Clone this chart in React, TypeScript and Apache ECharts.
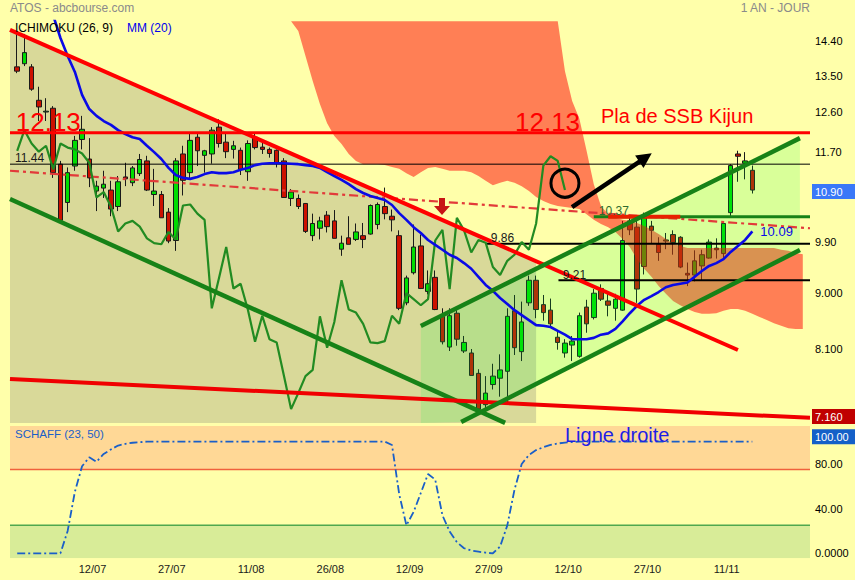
import React, { useEffect, useRef } from "react";
import * as echarts from "echarts";

// ATOS daily sessions from 27/06 to 16/11: [open, close, low, high]
const candles: number[][] = [
  [13.72, 13.61, 13.56, 14.62], [13.8, 14.09, 13.74, 14.59], [13.72, 13.16, 13.12, 13.79], [12.89, 12.73, 12.4, 13.22],
  [12.61, 12.63, 12.4, 12.94], [12.7, 11.26, 11.15, 12.75], [11.44, 10.3, 10.29, 11.51], [10.65, 11.26, 10.46, 11.37],
  [11.4, 11.96, 11.3, 12.06], [11.98, 12.21, 11.76, 12.52], [11.55, 11.15, 10.96, 12.01], [10.88, 10.98, 10.48, 11.09],
  [10.94, 11.02, 10.74, 11.3], [10.9, 10.52, 10.38, 11.09], [10.57, 11.07, 10.48, 11.19], [11.17, 11.13, 10.98, 11.47],
  [11.05, 11.36, 10.98, 11.4], [11.24, 11.54, 11.19, 11.66], [11.51, 10.9, 10.88, 11.62], [10.81, 10.88, 10.58, 11.34],
  [10.81, 10.35, 10.35, 10.88], [10.46, 9.91, 9.87, 10.54], [9.92, 11.51, 9.73, 11.57], [11.66, 11.1, 10.79, 11.84],
  [11.26, 11.96, 11.13, 12.11], [12.03, 11.73, 11.4, 12.13], [11.63, 11.73, 11.26, 11.75], [11.66, 12.19, 11.45, 12.26],
  [12.26, 11.89, 11.8, 12.44], [11.92, 11.71, 11.57, 12.11], [11.76, 11.84, 11.56, 11.95], [11.74, 11.33, 11.21, 11.8],
  [11.28, 11.89, 11.09, 11.96], [12.03, 11.8, 11.76, 12.13], [11.81, 11.76, 11.66, 11.96], [11.76, 11.67, 11.58, 11.8],
  [11.74, 11.47, 11.37, 11.76], [11.51, 10.75, 10.75, 11.57], [10.73, 10.86, 10.58, 10.92], [10.73, 10.57, 10.52, 10.81],
  [10.63, 10.09, 10.06, 10.64], [10.01, 10.24, 9.91, 10.43], [10.15, 10.29, 9.94, 10.37], [10.4, 10.18, 10.07, 10.48],
  [10.29, 9.96, 9.96, 10.5], [9.76, 9.87, 9.64, 10.01], [9.97, 9.85, 9.85, 10.38], [9.94, 10.08, 9.91, 10.24],
  [10.01, 9.94, 9.78, 10.25], [10.04, 10.59, 10.03, 10.61], [10.22, 10.61, 10.13, 10.65], [10.57, 10.43, 10.32, 10.95],
  [10.38, 10.31, 10.09, 10.51], [10.01, 8.74, 8.71, 10.11], [8.83, 9.25, 8.79, 9.29], [9.34, 9.8, 9.31, 10.22],
  [9.82, 9.07, 9.06, 10.03], [9.02, 9.15, 8.97, 9.38], [9.26, 8.72, 8.71, 9.38], [8.61, 8.21, 8.17, 8.74],
  [8.13, 8.62, 8.07, 8.74], [8.66, 8.25, 8.15, 8.71], [8.07, 8.2, 8.04, 8.3], [8.04, 7.71, 7.71, 8.1],
  [7.74, 7.24, 7.21, 7.8], [7.3, 7.46, 7.21, 7.7], [7.58, 7.7, 7.51, 7.88], [7.67, 7.79, 7.41, 8.02],
  [7.77, 8.61, 7.3, 8.74], [8.7, 8.12, 8.01, 8.96], [8.06, 8.52, 7.92, 8.85], [8.83, 9.21, 8.78, 9.29],
  [9.21, 8.72, 8.58, 9.29], [8.8, 8.67, 8.54, 8.96], [8.71, 8.49, 8.43, 8.9], [8.28, 8.2, 8.09, 8.39],
  [8.04, 8.19, 7.97, 8.25], [8.16, 8.22, 7.92, 8.3], [7.99, 8.62, 7.97, 8.67], [8.76, 8.49, 8.35, 8.88],
  [8.59, 8.99, 8.56, 9.06], [9.07, 8.89, 8.86, 9.14], [8.86, 8.79, 8.61, 8.98], [8.74, 8.89, 8.54, 8.98],
  [8.71, 9.92, 8.7, 10.29], [10.29, 10.12, 10.02, 10.4], [10.17, 9.06, 8.83, 10.29], [9.45, 10.35, 9.31, 10.45],
  [10.19, 10.11, 9.87, 10.29], [9.85, 9.7, 9.55, 9.98], [9.91, 9.93, 9.76, 10.06], [10.03, 9.88, 9.66, 10.11],
  [9.98, 9.44, 9.42, 10.0], [9.33, 9.3, 9.11, 9.52], [9.3, 9.55, 9.19, 9.74], [9.46, 9.66, 9.2, 9.75],
  [9.6, 9.89, 9.59, 9.94], [9.78, 9.75, 9.59, 9.96], [9.68, 10.24, 9.59, 10.25], [10.45, 11.41, 10.37, 11.44],
  [11.66, 11.61, 11.07, 11.73], [11.46, 11.51, 11.12, 11.7], [11.31, 10.9, 10.83, 11.41],
];

// MM(20), first value at session index 5
const mm20Start = 5;
const mm20: number[] = [
  15.1, 14.48, 14.0, 13.59, 13.02, 12.68, 12.52, 12.4, 12.31, 12.19,
  12.1, 12.03, 11.99, 11.84, 11.7, 11.55, 11.36, 11.21, 11.15, 11.13,
  11.17, 11.23, 11.27, 11.25, 11.25, 11.27, 11.32, 11.36, 11.42, 11.45,
  11.46, 11.46, 11.46, 11.45, 11.44, 11.42, 11.4, 11.36, 11.27, 11.19,
  11.11, 11.02, 10.92, 10.84, 10.78, 10.74, 10.7, 10.6, 10.44, 10.31,
  10.17, 10.06, 9.93, 9.84, 9.75, 9.66, 9.6, 9.51, 9.41, 9.27,
  9.13, 9.03, 8.91, 8.81, 8.71, 8.63, 8.55, 8.47, 8.46, 8.44,
  8.38, 8.32, 8.25, 8.25, 8.25, 8.27, 8.32, 8.34, 8.41, 8.53,
  8.66, 8.78, 8.88, 8.94, 9.01, 9.09, 9.13, 9.15, 9.17, 9.27,
  9.37, 9.46, 9.51, 9.58, 9.71, 9.82, 9.93, 10.09,
];

// Ichimoku kumo (projected spans), first value at index 37
const kumoStart = 37;
const senkouA: number[] = [
  14.94, 14.94, 14.67, 14.0, 13.36, 12.8, 12.35, 12.06, 11.88, 11.66,
  11.51, 11.44, 11.44, 11.44, 11.42, 11.38, 11.34, 11.25, 11.17, 11.27,
  11.36, 11.38, 11.34, 11.3, 11.3, 11.3, 11.27, 11.19, 11.09, 11.0,
  11.05, 11.09, 11.05, 10.98, 10.88, 10.76, 10.68, 10.62, 10.58, 10.56,
  10.54, 10.52, 10.42, 10.31, 10.23, 10.17, 10.08, 9.95, 9.8, 9.58,
  9.41, 9.27, 9.11, 8.98, 8.86, 8.79, 8.73, 8.68, 8.65, 8.65,
  8.66, 8.7, 8.73, 8.73, 8.7, 8.65, 8.6, 8.55, 8.5, 8.46,
  8.42, 8.41, 8.41,
];
const senkouB: number[] = [
  14.94, 14.94, 14.94, 14.94, 14.94, 14.94, 14.94, 14.94, 14.94, 14.94,
  14.94, 14.94, 14.94, 14.94, 14.94, 14.94, 14.94, 14.94, 14.94, 14.94,
  14.94, 14.94, 14.94, 14.94, 14.94, 14.94, 14.94, 14.94, 14.94, 14.94,
  14.94, 14.94, 14.94, 14.94, 14.94, 14.94, 14.94, 14.94, 14.94, 13.61,
  12.87, 12.45, 11.73, 11.02, 10.58, 10.42, 10.35, 10.31, 10.29, 10.25,
  10.19, 10.12, 10.04, 9.95, 9.86, 9.82, 9.78, 9.78, 9.78, 9.78,
  9.78, 9.78, 9.78, 9.78, 9.78, 9.78, 9.78, 9.78, 9.78, 9.75,
  9.73, 9.69, 9.67,
];
// Chikou span: closes drawn 26 sessions back
const chikouShift = 26;

// Schaff trend cycle (23, 50), one value per session
const schaff: number[] = [
  0, 0, 0, 0, 0, 0, 0, 20, 55, 78,
  86, 82, 89, 93, 96.5, 98, 99, 99.5, 100, 100,
  100, 100, 100, 100, 100, 100, 100, 100, 100, 100,
  100, 100, 100, 100, 100, 100, 100, 100, 100, 100,
  100, 100, 100, 100, 100, 100, 100, 100, 100, 100,
  100, 100, 97, 53, 25, 37, 54, 71, 66, 34,
  19.5, 10, 4.5, 2.5, 1.5, 0.5, 0, 6, 25, 57,
  80, 88, 92.4, 95, 97, 98.3, 99.2, 99.6, 100, 100,
  100, 100, 100, 100, 100, 100, 100, 100, 100, 100,
  100, 100, 100, 100, 100, 100, 100, 100, 100, 100,
  100, 100, 100,
];
const schaffHigh = 75;
const schaffLow = 25;

const dateLabels = ["12/07", "27/07", "11/08", "26/08", "12/09", "27/09", "12/10", "27/10", "11/11"];
const dateIndex = [11, 22, 33, 44, 55, 66, 77, 88, 99];

// price scale labels (10.80 and 7.200 sit under the value boxes)
const priceTicks = [14.4, 13.5, 12.6, 11.7, 9.9, 9.0, 8.1];
const priceTickLabels = ["14.40", "13.50", "12.60", "11.70", "9.90", "9.000", "8.100"];
const schaffTicks = [80, 40, 0];
const schaffTickLabels = ["80.00", "40.00", "0.0000"];

// Drawn levels and trend lines, as [session index, price]
const kijunLevel = 12.13;
const resistance = 11.44;
const level986 = 9.86;
const level921 = 9.21;
const level1037 = 10.37;
const fallingTop = [[-1, 14.7], [100, 8.085]];
const fallingBottom = [[-1, 10.72], [67.7, 7.056]];
const longSupport = [[-1, 7.66], [102, 7.16]];
const risingTop = [[56, 8.456], [108.6, 12.01]];
const risingBottom = [[61.6, 7.067], [108.6, 9.745]];
const dashTrend = [[-1, 11.3], [110, 10.15]];
const khakiEnd = 72;
const circleAt = [76.0, 11.04];
const arrowFrom = [76.98, 10.56];
const arrowTo = [87.18, 11.583];
const dropAt = [58.94, 10.57];

const FONT = '"Liberation Sans", Arial, Helvetica, sans-serif';

export default function App() {
  const ref = useRef<HTMLDivElement>(null);

  useEffect(() => {
    if (!ref.current) return;
    const chart = echarts.init(ref.current, null, { renderer: "svg" });

    const X_MIN = -1;
    const X_MAX = 110;
    const P_MIN = 7.0546;
    const P_MAX = 14.947;
    const S_MIN = -4.5;
    const S_MAX = 114;

    // price along a trend line, straight on the log scale
    const logAt = (line: number[][], x: number) => {
      const [[x0, p0], [x1, p1]] = line;
      const t = (x - x0) / (x1 - x0);
      return Math.exp(Math.log(p0) + t * (Math.log(p1) - Math.log(p0)));
    };

    const candleData = candles.map((c, i) => [i, c[0], c[1], c[2], c[3]]);
    const chikouData = candles.slice(chikouShift).map((c, i) => [i, c[1]]);
    const mmData = mm20.map((v, i) => [i + mm20Start, v]);
    const schaffData = schaff.map((v, i) => [i, v]);
    const kumo = [
      ...senkouA.map((v, i) => [i + kumoStart, v]),
      ...senkouB.map((v, i) => [i + kumoStart, v]).reverse(),
    ];
    const khaki = [
      [X_MIN, logAt(fallingTop, X_MIN)],
      [khakiEnd, logAt(fallingTop, khakiEnd)],
      [khakiEnd, P_MIN],
      [X_MIN, P_MIN],
    ];
    const channel = [
      risingTop[0],
      risingTop[1],
      risingBottom[1],
      risingBottom[0],
      [risingTop[0][0], P_MIN],
    ];

    const poly = (pts: number[][], fill: string, z: number, axis = 0) => ({
      type: "custom",
      z,
      silent: true,
      clip: true,
      xAxisIndex: axis,
      yAxisIndex: axis,
      data: [pts[0]],
      renderItem: (_p: any, api: any) => ({
        type: "polygon",
        shape: { points: pts.map((p) => api.coord(p)) },
        style: { fill },
      }),
    });

    const seg = (data: number[][], color: string, width: number, z: number, type: any = "solid", axis = 0) => ({
      type: "line",
      z,
      silent: true,
      symbol: "none",
      showSymbol: false,
      xAxisIndex: axis,
      yAxisIndex: axis,
      data,
      lineStyle: { color, width, type, cap: "butt" },
    });

    const hLine = (x0: number, v: number) => [[x0, v], [X_MAX, v]];

    const option: any = {
      animation: false,
      backgroundColor: "#FFFFAA",
      textStyle: { fontFamily: FONT },
      grid: [
        { left: 10, top: 21, width: 800, height: 402, containLabel: false, outerBoundsMode: "none" },
        { left: 10, top: 426, width: 800, height: 132.3, containLabel: false, outerBoundsMode: "none" },
      ],
      xAxis: [
        { type: "value", gridIndex: 0, min: X_MIN, max: X_MAX, show: false },
        { type: "value", gridIndex: 1, min: X_MIN, max: X_MAX, show: false },
      ],
      yAxis: [
        { type: "log", logBase: 10, gridIndex: 0, min: P_MIN, max: P_MAX, show: false },
        { type: "value", gridIndex: 1, min: S_MIN, max: S_MAX, show: false },
      ],
      series: [
        poly(khaki, "rgba(0,0,60,0.15)", 1),
        {
          type: "candlestick",
          z: 2,
          silent: true,
          barWidth: 5,
          data: candleData,
          itemStyle: {
            color: "#00DD00",
            color0: "#CC1100",
            borderColor: "#1A1A1A",
            borderColor0: "#1A1A1A",
            borderWidth: 1,
          },
        },
        poly(kumo, "rgba(255,0,0,0.5)", 3),
        poly(channel, "rgba(0,255,60,0.15)", 4),
        seg(dashTrend, "#E23A3A", 2.2, 5, [9, 4, 3, 4]),
        seg(hLine(X_MIN, resistance), "#000000", 1, 5),
        seg(hLine(65.1, level986), "#000000", 2, 5),
        seg(hLine(75.1, level921), "#000000", 2, 5),
        seg(hLine(80.0, level1037), "#178217", 3, 5),
        seg([[82.0, level1037], [92.0, level1037]], "#E82000", 4, 6),
        {
          type: "line",
          z: 6,
          silent: true,
          symbol: "none",
          showSymbol: false,
          data: chikouData,
          lineStyle: { color: "#228B22", width: 2.2 },
        },
        {
          type: "line",
          z: 7,
          silent: true,
          symbol: "none",
          showSymbol: false,
          data: mmData,
          lineStyle: { color: "#0A0AE6", width: 2.6 },
        },
        seg(hLine(X_MIN, kijunLevel), "#FF0000", 3, 8),
        seg(fallingTop, "#FF0000", 4, 8),
        seg(fallingBottom, "#178217", 4.5, 8),
        seg([longSupport[0], [X_MAX, logAt(longSupport, X_MAX)]], "#F00000", 4, 8),
        seg(risingTop, "#178217", 4.5, 8),
        seg(risingBottom, "#178217", 4.5, 8),
        {
          type: "line",
          z: 20,
          silent: true,
          symbol: "none",
          showSymbol: false,
          data: [circleAt],
          lineStyle: { width: 0 },
          markPoint: {
            z: 20,
            silent: true,
            label: { show: false },
            data: [
              {
                coord: circleAt,
                symbol: "circle",
                symbolSize: 28,
                itemStyle: { color: "rgba(0,0,0,0)", borderColor: "#000000", borderWidth: 3 },
              },
              {
                coord: dropAt,
                symbol: "path://M5,0 H11 V8 H16 L8,17 L0,8 H5 Z",
                symbolSize: [16, 17],
                itemStyle: { color: "#C81414" },
              },
            ],
          },
          markLine: {
            z: 20,
            silent: true,
            symbol: ["none", "triangle"],
            symbolSize: 15,
            label: { show: false },
            lineStyle: { color: "#000000", width: 4.5, type: "solid" },
            data: [[{ coord: arrowFrom }, { coord: arrowTo }]],
          },
        },
        // Schaff panel
        poly([[X_MIN, schaffHigh], [X_MAX, schaffHigh], [X_MAX, S_MAX], [X_MIN, S_MAX]], "#FFD896", 1, 1),
        poly([[X_MIN, S_MIN], [X_MAX, S_MIN], [X_MAX, schaffLow], [X_MIN, schaffLow]], "#D8EC98", 1, 1),
        seg(hLine(X_MIN, schaffHigh), "#F0603C", 1.5, 2, "solid", 1),
        seg(hLine(X_MIN, schaffLow), "#4FA84F", 1.5, 2, "solid", 1),
        {
          type: "line",
          xAxisIndex: 1,
          yAxisIndex: 1,
          z: 5,
          silent: true,
          symbol: "none",
          showSymbol: false,
          data: schaffData,
          lineStyle: { color: "#1A5FC8", width: 1.8, type: [8, 3, 2, 3] },
        },
      ],
    };

    chart.setOption(option);

    const at0 = (x: number, v: number) => chart.convertToPixel({ gridIndex: 0 }, [x, v]) as number[];
    const at1 = (x: number, v: number) => chart.convertToPixel({ gridIndex: 1 }, [x, v]) as number[];
    const text = (t: string, x: number, y: number, size: number, fill: string, align = "left", z = 100) => ({
      type: "text",
      x,
      y,
      z,
      silent: true,
      style: { text: t, fill, font: `${size}px ${FONT}`, align, verticalAlign: "middle" },
    });
    const box = (label: string, y: number, fill: string) => [
      { type: "rect", z: 110, silent: true, shape: { x: 812, y: y - 7.5, width: 43, height: 15 }, style: { fill } },
      text(label, 815, y, 11, "#FFFFFF", "left", 111),
    ];

    const els: any[] = [];
    els.push(text("ATOS - abcbourse.com", 10, 8, 12, "#8A8A8A"));
    els.push(text("1 AN - JOUR", 810, 8, 12, "#8A8A8A", "right"));
    els.push(text("ICHIMOKU (26, 9)", 15, 28, 12, "#000000"));
    els.push(text("MM (20)", 127, 28, 12, "#0000EE"));

    priceTicks.forEach((v, k) => {
      const [, y] = at0(X_MAX, v);
      els.push(text(priceTickLabels[k], 815, y, 11, "#000000"));
    });
    const last = candles.length - 1;
    const lastClose = candles[last][1];
    els.push(...box(lastClose.toFixed(2), at0(last, lastClose)[1] + 1.5, "#3A78F8"));
    const supportNow = logAt(longSupport, last);
    els.push(...box(supportNow.toFixed(3), at0(last, supportNow)[1] + 1.5, "#C00000"));

    const [kx1, ky] = at0(-0.2, kijunLevel);
    els.push(text(kijunLevel.toFixed(2), kx1, ky - 10.5, 26, "#FF0000"));
    const [kx2] = at0(69.07, kijunLevel);
    els.push(text(kijunLevel.toFixed(2), kx2, ky - 10.5, 26, "#FF0000"));
    const [kx3] = at0(81.0, kijunLevel);
    els.push(text("Pla de SSB Kijun", kx3, ky - 17, 20, "#FF0000"));

    const [rx, ry] = at0(-0.3, resistance);
    els.push(text(resistance.toFixed(2), rx, ry - 6, 12, "#1A1A1A"));
    const [ax, ay] = at0(65.7, level986);
    els.push(text(level986.toFixed(2), ax, ay - 6, 12, "#1A1A1A"));
    const [bx, by] = at0(75.7, level921);
    els.push(text(level921.toFixed(2), bx, by - 5.5, 12, "#1A1A1A"));
    const [cx, cy] = at0(80.7, level1037);
    els.push(text(level1037.toFixed(2), cx, cy - 5.5, 12, "#2F6B2F"));

    const mmLast = mm20[mm20.length - 1];
    const [mx, my] = at0(mm20Start + mm20.length - 1, mmLast);
    els.push(text(mmLast.toFixed(2), mx + 8, my, 13, "#0A0AE6"));

    // Schaff panel texts
    els.push(text("SCHAFF (23, 50)", 15, 434, 11.5, "#1A5FC8"));
    const [lx, ly] = at1(76.0, 106);
    els.push(text("Ligne droite", lx, ly, 20, "#1E1EE6"));
    schaffTicks.forEach((v, k) => {
      const [, y] = at1(X_MAX, v);
      els.push(text(schaffTickLabels[k], 815, y, 11, "#000000"));
    });
    const schaffLast = schaff[schaff.length - 1];
    els.push(...box(schaffLast.toFixed(2), at1(X_MAX, schaffLast)[1] - 5, "#1460C8"));

    dateIndex.forEach((idx, k) => {
      const [x] = at1(idx, 0);
      els.push(text(dateLabels[k], x - 4, 569, 11, "#1A1A1A", "center"));
    });

    chart.setOption({ graphic: { elements: els } });

    return () => {
      chart.dispose();
    };
  }, []);

  return (
    <div
      ref={ref}
      style={{ position: "absolute", left: 0, top: 0, width: 855, height: 580, background: "#FFFFAA" }}
    />
  );
}
